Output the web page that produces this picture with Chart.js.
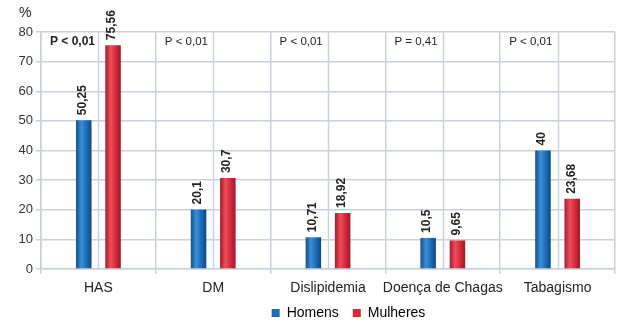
<!DOCTYPE html>
<html>
<head>
<meta charset="utf-8">
<script src="https://cdn.jsdelivr.net/npm/chart.js@4"></script>
<style>
  html, body { margin: 0; padding: 0; background: #fff; }
  #wrap { width: 617px; height: 322px; position: relative; }
</style>
</head>
<body>
<div id="wrap"><canvas id="chart"></canvas></div>
<script>
const categories = ["HAS", "DM", "Dislipidemia", "Doença de Chagas", "Tabagismo"];
const homens = [50.25, 20.1, 10.71, 10.5, 40];
const mulheres = [75.56, 30.7, 18.92, 9.65, 23.68];
const pValues = ["P < 0,01", "P < 0,01", "P < 0,01", "P = 0,41", "P < 0,01"];
const yTicks = [0, 10, 20, 30, 40, 50, 60, 70, 80];

const FONT = "'Liberation Sans', Arial, sans-serif";
const gridColor = "#c9d1dd";
const blue = "#1c6db5";
const red = "#d8293b";
const shades = [
  ["#114f8c", "#3a90d8", "#1a6ab3", "#0e4680"],
  ["#a51b29", "#ef4d5b", "#d3283a", "#9c1824"],
];

const fmt = (v) => String(v).replace(".", ",");

// cylinder-like shading on the bars
const barShade = {
  id: "barShade",
  beforeDatasetsDraw(chart) {
    const c = chart.ctx;
    chart.data.datasets.forEach((ds, i) => {
      const s = shades[i];
      chart.getDatasetMeta(i).data.forEach((bar) => {
        const l = bar.x - bar.width / 2;
        const g = c.createLinearGradient(l, 0, l + bar.width, 0);
        g.addColorStop(0, s[0]);
        g.addColorStop(0.35, s[1]);
        g.addColorStop(0.7, s[2]);
        g.addColorStop(1, s[3]);
        bar.options.backgroundColor = g;
      });
    });
  },
};

// rotated value labels above each bar
const valueLabels = {
  id: "valueLabels",
  afterDatasetsDraw(chart) {
    const c = chart.ctx;
    c.save();
    c.font = "bold 12px " + FONT;
    c.fillStyle = "#222";
    c.textAlign = "left";
    c.textBaseline = "middle";
    chart.data.datasets.forEach((ds, i) => {
      chart.getDatasetMeta(i).data.forEach((bar, j) => {
        c.save();
        c.translate(bar.x - 1, bar.y - 5);
        c.rotate(-Math.PI / 2);
        c.fillText(fmt(ds.data[j]), 0, 0);
        c.restore();
      });
    });
    c.restore();
  },
};

// p-values, centre grid lines and the "%" unit
const extras = {
  id: "extras",
  afterLayout(chart) {
    chart.legend.left += 41;
    chart.legend.right += 41;
    chart.legend.top -= 13;
    chart.legend.bottom -= 13;
  },
  beforeDatasetsDraw(chart) {
    const c = chart.ctx;
    const x = chart.scales.x;
    const area = chart.chartArea;
    c.save();
    c.strokeStyle = gridColor;
    c.lineWidth = 1.5;
    categories.forEach((cat, i) => {
      const px = Math.round(x.getPixelForValue(i)) + 0.5;
      c.beginPath();
      c.moveTo(px, area.top);
      c.lineTo(px, area.bottom);
      c.stroke();
    });
    const half = (x.getPixelForValue(1) - x.getPixelForValue(0)) / 2;
    c.fillStyle = "#222";
    c.textAlign = "left";
    c.textBaseline = "middle";
    pValues.forEach((p, i) => {
      c.font = i === 0 ? "bold 12px " + FONT : "11.5px " + FONT;
      c.fillText(p, x.getPixelForValue(i) - half + 9, area.top + 10);
    });
    c.font = "14px " + FONT;
    c.fillText("%", 19, 13);
    c.restore();
  },
};

new Chart(document.getElementById("chart"), {
  type: "bar",
  data: {
    labels: categories,
    datasets: [
      {
        label: "Homens",
        data: homens,
        backgroundColor: () => blue,
        borderWidth: 0,
        categoryPercentage: 0.51,
        barPercentage: 0.53,
      },
      {
        label: "Mulheres",
        data: mulheres,
        backgroundColor: () => red,
        borderWidth: 0,
        categoryPercentage: 0.51,
        barPercentage: 0.53,
      },
    ],
  },
  options: {
    responsive: true,
    maintainAspectRatio: false,
    animation: false,
    layout: { padding: { top: 32, right: 2, left: 0, bottom: -21 } },
    plugins: {
      tooltip: { enabled: false },
      legend: {
        position: "bottom",
        labels: {
          font: { family: FONT, size: 14 },
          color: "#222",
          boxWidth: 8,
          boxHeight: 8,
          padding: 14,
          generateLabels: (chart) => chart.data.datasets.map((ds, i) => ({
            text: ds.label,
            fillStyle: i === 0 ? blue : red,
            strokeStyle: i === 0 ? blue : red,
            lineWidth: 0,
            datasetIndex: i,
          })),
        },
      },
    },
    scales: {
      y: {
        min: 0,
        max: 80,
        afterBuildTicks: (s) => { s.ticks = yTicks.map((v) => ({ value: v })); },
        afterFit: (s) => { s.width = 41; },
        border: { color: gridColor, width: 1.5 },
        grid: { color: gridColor, lineWidth: 1.5, tickLength: 5 },
        ticks: { font: { family: FONT, size: 13 }, color: "#333", padding: 3 },
      },
      x: {
        afterFit: (s) => { s.height = 36; },
        border: { color: gridColor, width: 1.5 },
        grid: { color: gridColor, lineWidth: 1.5, tickLength: 5 },
        ticks: {
          font: { family: FONT, size: 14 },
          color: "#222",
          padding: 6,
          maxRotation: 0,
          autoSkip: false,
        },
      },
    },
  },
  plugins: [barShade, extras, valueLabels],
});
</script>
</body>
</html>
